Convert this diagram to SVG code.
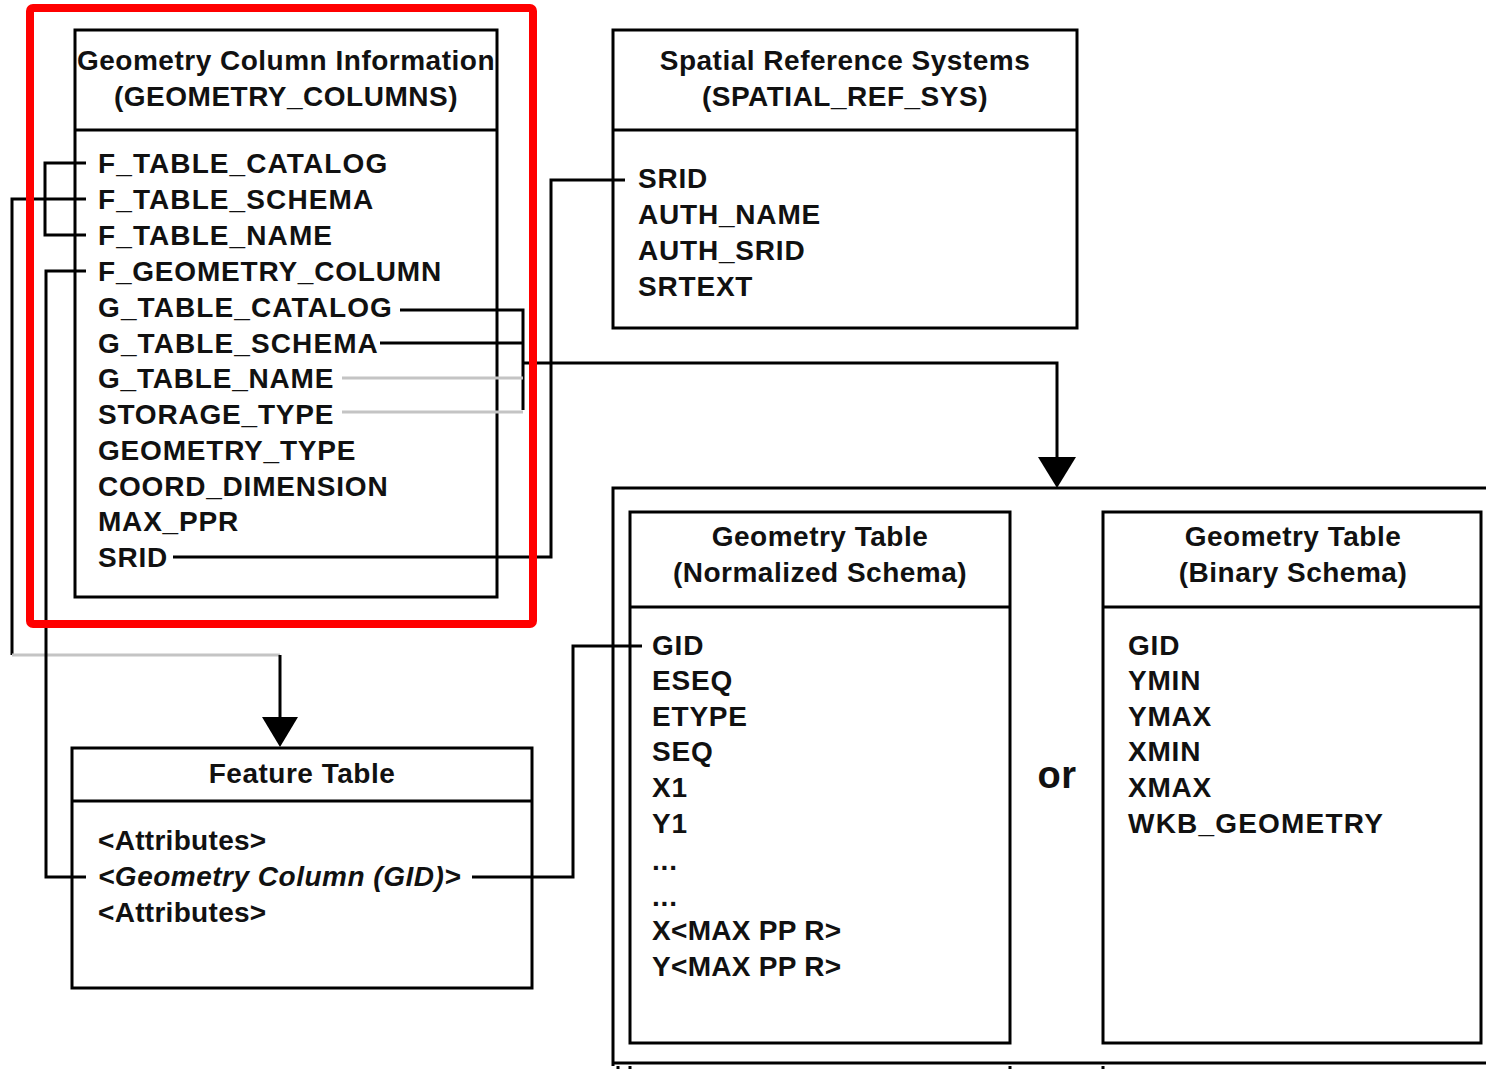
<svg xmlns="http://www.w3.org/2000/svg" width="1486" height="1069" viewBox="0 0 1486 1069">
<style>
.box{fill:#fff;stroke:#000;stroke-width:3}
.sep{stroke:#000;stroke-width:3}
.t{font-family:"Liberation Sans",Arial,sans-serif;font-weight:bold;font-size:28px;fill:#111;letter-spacing:0.8px}
.h{text-anchor:middle;letter-spacing:0.5px}
.c{fill:none;stroke:#000;stroke-width:3}
.g{fill:none;stroke:#c4c4c4;stroke-width:3}
.ah{fill:#000}
</style>
<rect width="1486" height="1069" fill="#fff"/>
<g id="container">
<path d="M613,1066 V488 H1486" class="c"/>
<path d="M613,1063 H1486" class="c"/>
<path d="M618,1066 V1069 M630,1066 V1069 M1010,1066 V1069 M1103,1066 V1069" class="c"/>
</g>
<g id="geometry-columns">
<rect x="75" y="30" width="422" height="567" class="box"/>
<line x1="75" y1="130" x2="497" y2="130" class="sep"/>
<text class="t h" x="286" y="70">Geometry Column Information</text>
<text class="t h" x="286" y="106">(GEOMETRY_COLUMNS)</text>
<text class="t" x="98" y="173" style="letter-spacing:1.1px">F_TABLE_CATALOG</text>
<text class="t" x="98" y="209" style="letter-spacing:1.1px">F_TABLE_SCHEMA</text>
<text class="t" x="98" y="245" style="letter-spacing:1.1px">F_TABLE_NAME</text>
<text class="t" x="98" y="281">F_GEOMETRY_COLUMN</text>
<text class="t" x="98" y="317" style="letter-spacing:1.1px">G_TABLE_CATALOG</text>
<text class="t" x="98" y="353" style="letter-spacing:1.1px">G_TABLE_SCHEMA</text>
<text class="t" x="98" y="388">G_TABLE_NAME</text>
<text class="t" x="98" y="424">STORAGE_TYPE</text>
<text class="t" x="98" y="460">GEOMETRY_TYPE</text>
<text class="t" x="98" y="496">COORD_DIMENSION</text>
<text class="t" x="98" y="531">MAX_PPR</text>
<text class="t" x="98" y="567">SRID</text>
</g>
<g id="spatial-ref-sys">
<rect x="613" y="30" width="464" height="298" class="box"/>
<line x1="613" y1="130" x2="1077" y2="130" class="sep"/>
<text class="t h" x="845" y="70">Spatial Reference Systems</text>
<text class="t h" x="845" y="106">(SPATIAL_REF_SYS)</text>
<text class="t" x="638" y="188">SRID</text>
<text class="t" x="638" y="224">AUTH_NAME</text>
<text class="t" x="638" y="260">AUTH_SRID</text>
<text class="t" x="638" y="296">SRTEXT</text>
</g>
<g id="geometry-normalized">
<rect x="630" y="512" width="380" height="531" class="box"/>
<line x1="630" y1="607" x2="1010" y2="607" class="sep"/>
<text class="t h" x="820" y="546">Geometry Table</text>
<text class="t h" x="820" y="582">(Normalized Schema)</text>
<text class="t" x="652" y="655">GID</text>
<text class="t" x="652" y="690">ESEQ</text>
<text class="t" x="652" y="726">ETYPE</text>
<text class="t" x="652" y="761">SEQ</text>
<text class="t" x="652" y="797">X1</text>
<text class="t" x="652" y="833">Y1</text>
<text class="t" x="652" y="870">...</text>
<text class="t" x="652" y="906">...</text>
<text class="t" x="652" y="940" style="letter-spacing:0.3px">X&lt;MAX PP R&gt;</text>
<text class="t" x="652" y="976" style="letter-spacing:0.3px">Y&lt;MAX PP R&gt;</text>
</g>
<g id="or-label">
<text class="t h" x="1057" y="788" style="font-size:38px">or</text>
</g>
<g id="geometry-binary">
<rect x="1103" y="512" width="378" height="531" class="box"/>
<line x1="1103" y1="607" x2="1481" y2="607" class="sep"/>
<text class="t h" x="1293" y="546">Geometry Table</text>
<text class="t h" x="1293" y="582">(Binary Schema)</text>
<text class="t" x="1128" y="655">GID</text>
<text class="t" x="1128" y="690">YMIN</text>
<text class="t" x="1128" y="726">YMAX</text>
<text class="t" x="1128" y="761">XMIN</text>
<text class="t" x="1128" y="797">XMAX</text>
<text class="t" x="1128" y="833" style="letter-spacing:1.2px">WKB_GEOMETRY</text>
</g>
<g id="feature-table">
<rect x="72" y="748" width="460" height="240" class="box"/>
<line x1="72" y1="801" x2="532" y2="801" class="sep"/>
<text class="t h" x="302" y="783">Feature Table</text>
<text class="t" x="98" y="850" style="letter-spacing:0.3px">&lt;Attributes&gt;</text>
<text class="t" x="98" y="886" font-style="italic" style="letter-spacing:0.5px">&lt;Geometry Column (GID)&gt;</text>
<text class="t" x="98" y="922" style="letter-spacing:0.3px">&lt;Attributes&gt;</text>
</g>
<g id="connectors">
<path d="M86,163 H45 V235 H86" class="c"/>
<path d="M86,199 H12 V655" class="c"/>
<path d="M12,655 H280" class="g"/>
<path d="M280,655 V720" class="c"/>
<polygon points="262,717 298,717 280,747" class="ah"/>
<path d="M86,271 H46 V877 H86" class="c"/>
<path d="M400,310 H523 V410" class="c"/>
<path d="M380,343 H523" class="c"/>
<path d="M342,378 H523 M342,412 H523" class="g"/>
<path d="M523,363 H1057 V460" class="c"/>
<polygon points="1038,457 1076,457 1057,488" class="ah"/>
<path d="M173,557 H551 V180 H625" class="c"/>
<path d="M472,877 H573 V646 H642" class="c"/>
</g>
<g id="highlight">
<rect x="30" y="8" width="503" height="616" rx="3" fill="none" stroke="#f00" stroke-width="8"/>
</g>
</svg>
